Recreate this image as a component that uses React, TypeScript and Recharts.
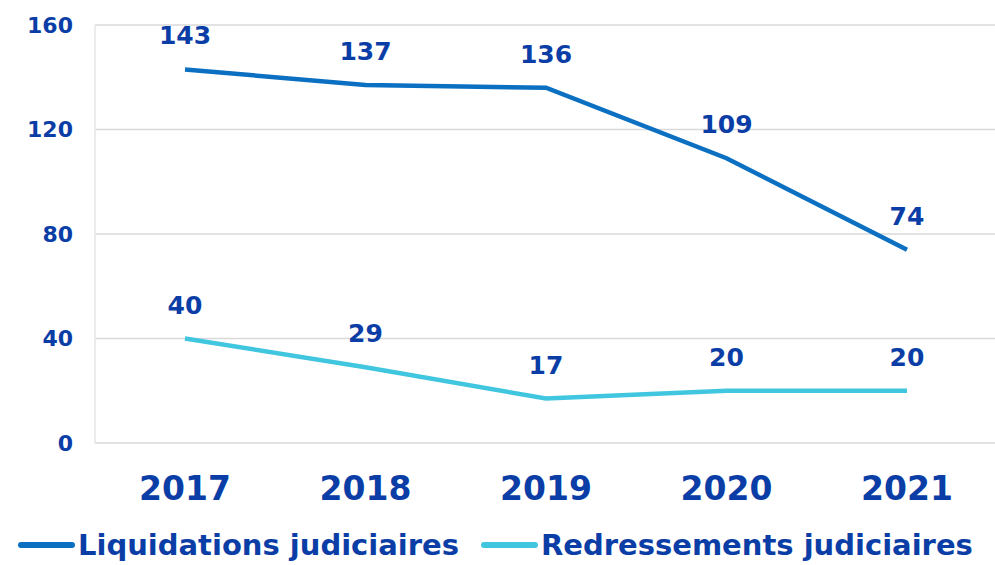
import { LineChart, Line, XAxis, YAxis, CartesianGrid, Legend, LabelList } from 'recharts'

// ─── Data ─────────────────────────────────────────────────────────────────────

const years = ['2017', '2018', '2019', '2020', '2021']
const liquidations = [143, 137, 136, 109, 74]
const redressements = [40, 29, 17, 20, 20]
const yTicks = [0, 40, 80, 120, 160]

const TEXT = '#0a3ea6'
const DARK = '#0b6fc2'
const LIGHT = '#40c6df'
const FONT = '"DejaVu Sans", sans-serif'

const chartData = years.map((y, i) => ({
  year: y,
  liq: liquidations[i],
  red: redressements[i],
}))

const SERIES = [
  { key: 'liq', label: 'Liquidations judiciaires', color: DARK },
  { key: 'red', label: 'Redressements judiciaires', color: LIGHT },
]

// ─── Legend ───────────────────────────────────────────────────────────────────

function ChartLegend() {
  return (
    <div style={{ display: 'flex', alignItems: 'center', paddingLeft: 18, height: 46, position: 'relative', top: 3 }}>
      {SERIES.map((s, i) => (
        <div key={s.key} style={{ display: 'flex', alignItems: 'center', marginRight: i === 0 ? 22 : 0 }}>
          <span style={{ width: 57, height: 6, borderRadius: 3, background: s.color, display: 'inline-block', marginRight: 3 }} />
          <span style={{ color: TEXT, fontFamily: FONT, fontWeight: 700, fontSize: 29, whiteSpace: 'nowrap' }}>{s.label}</span>
        </div>
      ))}
    </div>
  )
}

// ─── App ──────────────────────────────────────────────────────────────────────

export default function App() {
  return (
    <div style={{ position: 'absolute', left: 0, top: 0, width: 995, height: 565, background: '#fff' }}>
      <LineChart width={995} height={565} data={chartData} margin={{ top: 25, right: -2, left: 0, bottom: 0 }}>
        <CartesianGrid vertical={false} stroke="#d9d9d9" strokeWidth={1.5} />
        <XAxis
          dataKey="year"
          axisLine={false}
          tickLine={false}
          tickSize={0}
          tickMargin={34}
          height={76}
          padding={{ left: 90, right: 90 }}
          tick={{ fontSize: 33, fontWeight: 700, fill: TEXT, fontFamily: FONT }}
        />
        <YAxis
          domain={[0, 160]}
          ticks={yTicks}
          width={95}
          axisLine={{ stroke: '#e6e6e6', strokeWidth: 1.5 }}
          tickLine={false}
          tickSize={0}
          tickMargin={22}
          tick={{ fontSize: 22, fontWeight: 700, fill: TEXT, fontFamily: FONT }}
        />
        <Legend verticalAlign="bottom" content={<ChartLegend />} />
        {SERIES.map((s) => (
          <Line
            key={s.key}
            dataKey={s.key}
            stroke={s.color}
            strokeWidth={4.5}
            dot={false}
            activeDot={false}
            isAnimationActive={false}
          >
            <LabelList
              dataKey={s.key}
              position="top"
              offset={25}
              style={{ fontSize: 25, fontWeight: 700, fill: TEXT, fontFamily: FONT }}
            />
          </Line>
        ))}
      </LineChart>
    </div>
  )
}
